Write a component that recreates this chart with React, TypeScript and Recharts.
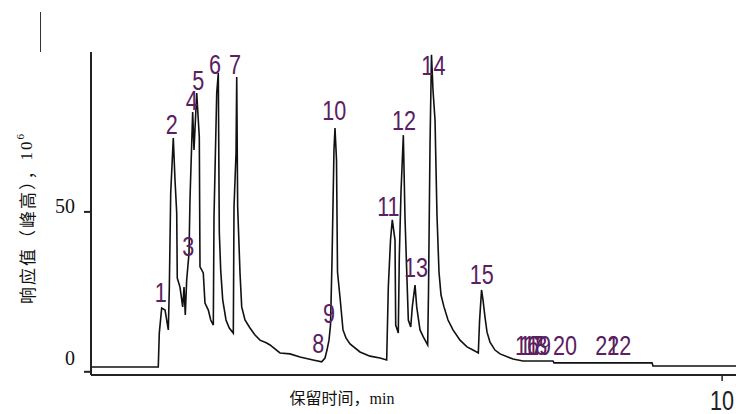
import React from 'react';
import { LineChart, Line, XAxis, YAxis, ReferenceDot } from 'recharts';

// retention time (min) of each traced point of the chromatogram
const times = [
  0, 1.066, 1.082, 1.12, 1.173, 1.225, 1.241, 1.263, 1.304, 1.331, 1.358, 1.367, 1.41, 1.453, 1.474,
  1.494, 1.516, 1.553, 1.569, 1.611, 1.632, 1.675, 1.716, 1.727, 1.779, 1.806, 1.859, 1.897, 1.938,
  1.949, 1.992, 2.017, 2.033, 2.055, 2.087, 2.139, 2.191, 2.255, 2.266, 2.298, 2.309, 2.324, 2.361,
  2.388, 2.44, 2.519, 2.599, 2.678, 2.784, 2.836, 2.995, 3.153, 3.312, 3.518, 3.655, 3.708, 3.739,
  3.771, 3.795, 3.819, 3.85, 3.866, 3.89, 3.906, 3.945, 3.993, 4.04, 4.104, 4.262, 4.421, 4.579,
  4.685, 4.711, 4.746, 4.774, 4.817, 4.828, 4.869, 4.885, 4.912, 4.949, 4.975, 5.002, 5.028, 5.066,
  5.091, 5.134, 5.161, 5.213, 5.265, 5.335, 5.348, 5.372, 5.395, 5.419, 5.451, 5.482, 5.514, 5.546,
  5.593, 5.657, 5.736, 5.847, 5.958, 6.053, 6.137, 6.156, 6.188, 6.211, 6.243, 6.275, 6.322, 6.401,
  6.481, 6.687, 6.845, 7.32, 7.336, 8.889, 8.905, 10.22,
];

// response (peak height, 10^6) at each time above
const response = [
  1.5, 1.5, 12.1, 19.9, 19.3, 13.1, 26.2, 55.9, 73.1, 60.0, 49.7, 29.3, 26.5, 20.3, 26.5,
  17.8, 28.7, 37.1, 54.3, 81.2, 69.4, 87.2, 73.4, 32.8, 30.9, 21.5, 19.3, 16.2, 14.6,
  48.4, 87.2, 93.4, 43.7, 31.8, 22.5, 16.2, 13.7, 12.1, 51.5, 68.4, 92.2, 51.5, 30.9,
  20.3, 16.2, 13.7, 11.5, 9.9, 9.0, 8.4, 5.9, 5.6, 4.6, 3.7, 3.1, 4.3, 6.8,
  9.9, 14.6, 35.0, 69.4, 76.2, 66.2, 31.2, 23.4, 13.1, 10.6, 8.7, 6.2, 4.9, 4.3,
  3.7, 26.5, 41.2, 47.5, 41.2, 14.6, 12.1, 35.9, 56.2, 74.0, 48.4, 31.8, 16.2, 14.0,
  20.3, 27.1, 20.3, 13.1, 10.9, 8.4, 25.6, 71.5, 99.1, 88.1, 78.7, 49.0, 31.2, 24.0,
  20.3, 16.2, 13.1, 9.9, 7.8, 6.8, 5.9, 15.6, 25.6, 22.5, 17.1, 12.4, 9.3, 6.8,
  5.6, 4.0, 3.4, 3.4, 2.8, 2.8, 1.8, 1.8,
];

// peak numbers, their retention times and where the number sits
const peakNames = ['1', '2', '3', '4', '5', '6', '7', '8', '9', '10', '11', '12', '13', '14', '15', '16', '17', '18', '19', '20', '21', '22'];
const peakTimes = [1.105, 1.279, 1.542, 1.595, 1.7, 1.965, 2.282, 3.602, 3.772, 3.856, 4.712, 4.96, 5.15, 5.425, 6.192, 6.91, 6.97, 7.04, 7.1, 7.51, 8.18, 8.37];
const labelLevels = [21.7, 74.5, 36.2, 81.8, 88.1, 93.1, 93.1, 6.0, 15.4, 78.6, 48.7, 75.5, 29.6, 92.9, 27.4, 5.3, 5.3, 5.3, 5.3, 5.3, 5.3, 5.3];

const yTicks = [0, 50];
const xTicks = [10];

const data = times.map((t, i) => ({ t, v: response[i] }));

const sans = "'Liberation Sans', Arial, sans-serif";
const serif = "'Liberation Serif', 'DejaVu Serif', serif";
const cjk = "'Noto Sans CJK SC', sans-serif";

// condensed bitmap-like number used for peak marks and the x tick
const NarrowText = ({ x, y, fill, children }: any) => (
  <text
    transform={`translate(${x} ${y}) scale(0.8 1)`}
    textAnchor="middle"
    fontFamily={sans}
    fontSize={27}
    fill={fill}
  >
    {children}
  </text>
);

const YTick = (props: any) => {
  const { x, y, payload } = props;
  const shift = payload.value === 0 ? -7 : 1;
  return (
    <text x={x - 7} y={y + shift} textAnchor="end" fontFamily={serif} fontSize={20} fill="#111">
      {payload.value}
    </text>
  );
};

const XTick = (props: any) => {
  const { x, y, payload } = props;
  return (
    <NarrowText x={x} y={y + 27} fill="#222">
      {payload.value}
    </NarrowText>
  );
};

const YTitle = (props: any) => {
  const vb = props.viewBox || { x: 0, y: 52 };
  const cx = vb.x + 26;
  const cy = vb.y + 166;
  return (
    <text x={cx} y={cy} transform={`rotate(-90 ${cx} ${cy})`} textAnchor="middle" dominantBaseline="central" fontSize={17} letterSpacing={2} fill="#111">
      <tspan fontFamily={cjk}>响应值（峰高），</tspan>
      <tspan fontFamily={serif}>10</tspan>
      <tspan fontFamily={serif} fontSize={11} dy={-6}>6</tspan>
    </text>
  );
};

const XTitle = (props: any) => {
  const vb = props.viewBox || { x: 91, y: 375 };
  const x = vb.x + 251;
  const y = vb.y + 29;
  return (
    <text x={x} y={y} textAnchor="middle" fontSize={16} fill="#111">
      <tspan fontFamily={cjk}>保留时间，</tspan>
      <tspan fontFamily={serif}>min</tspan>
    </text>
  );
};

export default function App() {
  return (
    <div style={{ position: 'absolute', left: 0, top: 0, width: 736, height: 414, background: '#fff' }}>
      <div style={{ position: 'absolute', left: 40, top: 12, width: 1, height: 40, background: '#333' }} />
      <LineChart width={736} height={414} data={data} margin={{ top: 52, right: 0, bottom: 0, left: 0 }}>
        <XAxis
          dataKey="t"
          type="number"
          domain={[0, 10.22]}
          ticks={xTicks}
          tick={<XTick />}
          tickSize={6}
          axisLine={{ stroke: '#222', strokeWidth: 2 }}
          tickLine={{ stroke: '#222', strokeWidth: 1.5 }}
          height={39}
          label={<XTitle />}
        />
        <YAxis
          type="number"
          domain={[-1, 100]}
          ticks={yTicks}
          tick={<YTick />}
          tickSize={7}
          width={91}
          axisLine={{ stroke: '#222', strokeWidth: 2 }}
          tickLine={{ stroke: '#222', strokeWidth: 2 }}
          label={<YTitle />}
        />
        <Line type="linear" dataKey="v" stroke="#111" strokeWidth={1.6} dot={false} isAnimationActive={false} />
        {peakNames.map((name, i) => (
          <ReferenceDot
            key={name}
            x={peakTimes[i]}
            y={labelLevels[i]}
            r={0}
            shape={(p: any) => (
              <NarrowText x={p.cx} y={p.cy} fill="#5a2060">
                {name}
              </NarrowText>
            )}
          />
        ))}
      </LineChart>
    </div>
  );
}
